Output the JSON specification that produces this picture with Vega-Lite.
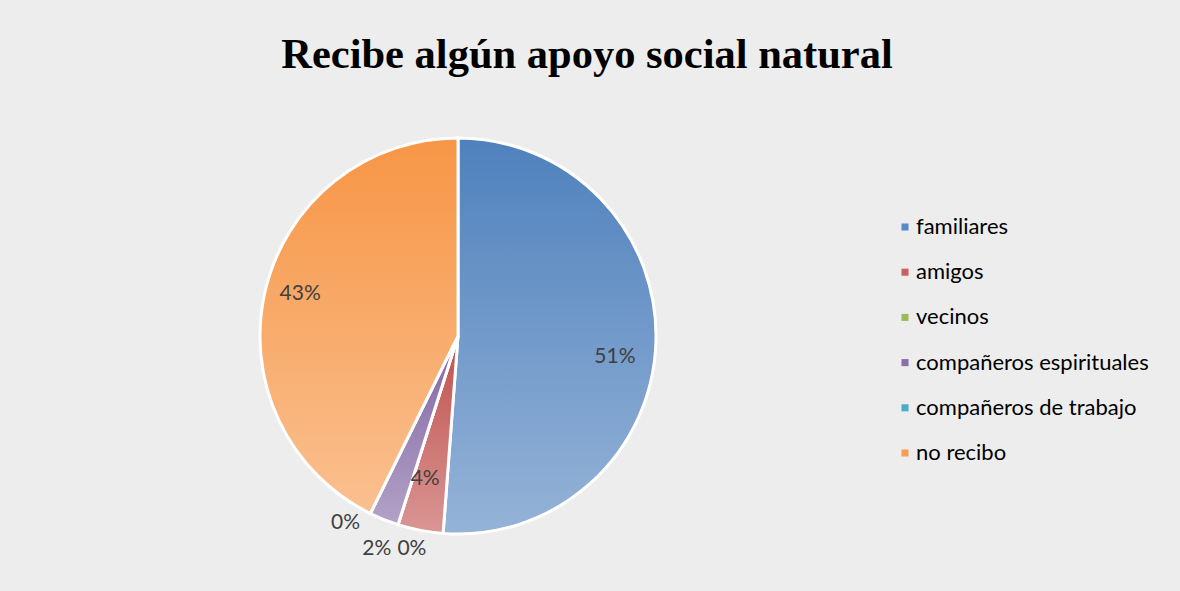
{
  "$schema": "https://vega.github.io/schema/vega-lite/v6.json",
  "autosize": {"type": "none"},
  "width": 396,
  "height": 396,
  "padding": {"left": 260, "top": 138, "right": 524, "bottom": 57},
  "background": "#ededed",
  "title": {
    "text": "Recibe algún apoyo social natural",
    "font": "Liberation Serif",
    "fontSize": 42.5,
    "fontWeight": "bold",
    "color": "#000000",
    "anchor": "middle",
    "baseline": "alphabetic",
    "offset": 22,
    "dx": 129
  },
  "data": {
    "values": [
      {"cat": "familiares", "v": 0.512, "orden": 1},
      {"cat": "amigos", "v": 0.037, "orden": 2},
      {"cat": "vecinos", "v": 0, "orden": 3},
      {"cat": "compañeros espirituales", "v": 0.024, "orden": 4},
      {"cat": "compañeros de trabajo", "v": 0, "orden": 5},
      {"cat": "no recibo", "v": 0.427, "orden": 6}
    ]
  },
  "encoding": {
    "theta": {"field": "v", "type": "quantitative", "stack": true},
    "order": {"field": "orden", "type": "quantitative"}
  },
  "layer": [
    {
      "mark": {"type": "arc", "stroke": "#ffffff", "strokeWidth": 3},
      "encoding": {
        "color": {
          "field": "cat",
          "type": "nominal",
          "scale": {
            "domain": ["familiares", "amigos", "vecinos", "compañeros espirituales", "compañeros de trabajo", "no recibo"],
            "range": ["#5a8ac6", "#c9625f", "#9bbb59", "#8a70ab", "#4bacc6", "#f79d55"]
          },
          "legend": {
            "orient": "none",
            "legendX": 634,
            "legendY": 78,
            "title": null,
            "symbolType": "square",
            "symbolSize": 50,
            "symbolStrokeWidth": 0,
            "labelFont": "Lato",
            "labelFontSize": 22,
            "labelColor": "#000000",
            "labelOffset": 0,
            "labelLimit": 400,
            "rowPadding": 23.2,
            "padding": 0
          },
          "condition": [
            {"test": "datum.cat === 'familiares'", "value": {"gradient": "linear", "x1": 0, "y1": 0, "x2": 0, "y2": 1, "stops": [{"offset": 0, "color": "#4f81bd"}, {"offset": 1, "color": "#95b3d7"}]}},
            {"test": "datum.cat === 'amigos'", "value": {"gradient": "linear", "x1": 0, "y1": 0, "x2": 0, "y2": 1, "stops": [{"offset": 0, "color": "#c0504d"}, {"offset": 1, "color": "#d99694"}]}},
            {"test": "datum.cat === 'vecinos'", "value": {"gradient": "linear", "x1": 0, "y1": 0, "x2": 0, "y2": 1, "stops": [{"offset": 0, "color": "#9bbb59"}, {"offset": 1, "color": "#c3d69b"}]}},
            {"test": "datum.cat === 'compañeros espirituales'", "value": {"gradient": "linear", "x1": 0, "y1": 0, "x2": 0, "y2": 1, "stops": [{"offset": 0, "color": "#8064a2"}, {"offset": 1, "color": "#b3a2c7"}]}},
            {"test": "datum.cat === 'compañeros de trabajo'", "value": {"gradient": "linear", "x1": 0, "y1": 0, "x2": 0, "y2": 1, "stops": [{"offset": 0, "color": "#4bacc6"}, {"offset": 1, "color": "#93cddd"}]}},
            {"test": "datum.cat === 'no recibo'", "value": {"gradient": "linear", "x1": 0, "y1": 0, "x2": 0, "y2": 1, "stops": [{"offset": 0, "color": "#f79646"}, {"offset": 1, "color": "#fac090"}]}}
          ]
        }
      }
    },
    {
      "mark": {"type": "text", "radius": 160, "dx": -3, "dy": 15, "font": "Lato", "fontSize": 21, "color": "#404040", "align": "center", "baseline": "middle"},
      "encoding": {"text": {"condition": {"test": "datum.cat === 'familiares'", "field": "v", "type": "quantitative", "format": ".0%"}, "value": ""}}
    },
    {
      "mark": {"type": "text", "radius": 160, "dx": -2, "dy": -6, "font": "Lato", "fontSize": 21, "color": "#404040", "align": "center", "baseline": "middle"},
      "encoding": {"text": {"condition": {"test": "datum.cat === 'no recibo'", "field": "v", "type": "quantitative", "format": ".0%"}, "value": ""}}
    },
    {
      "mark": {"type": "text", "radius": 146, "dx": -5, "dy": 0, "font": "Lato", "fontSize": 21, "color": "#404040", "align": "center", "baseline": "middle"},
      "encoding": {"text": {"condition": {"test": "datum.cat === 'amigos'", "field": "v", "type": "quantitative", "format": ".0%"}, "value": ""}}
    },
    {
      "mark": {"type": "text", "radius": 218, "dx": 20, "dy": 5, "font": "Lato", "fontSize": 21, "color": "#404040", "align": "center", "baseline": "middle"},
      "encoding": {"text": {"condition": {"test": "datum.cat === 'vecinos'", "field": "v", "type": "quantitative", "format": ".0%"}, "value": ""}}
    },
    {
      "mark": {"type": "text", "radius": 225, "dx": 3, "dy": 4, "font": "Lato", "fontSize": 21, "color": "#404040", "align": "center", "baseline": "middle"},
      "encoding": {"text": {"condition": {"test": "datum.cat === 'compañeros espirituales'", "field": "v", "type": "quantitative", "format": ".0%"}, "value": ""}}
    },
    {
      "mark": {"type": "text", "radius": 218, "dx": -16, "dy": -8, "font": "Lato", "fontSize": 21, "color": "#404040", "align": "center", "baseline": "middle"},
      "encoding": {"text": {"condition": {"test": "datum.cat === 'compañeros de trabajo'", "field": "v", "type": "quantitative", "format": ".0%"}, "value": ""}}
    }
  ],
  "config": {"view": {"stroke": null}}
}
